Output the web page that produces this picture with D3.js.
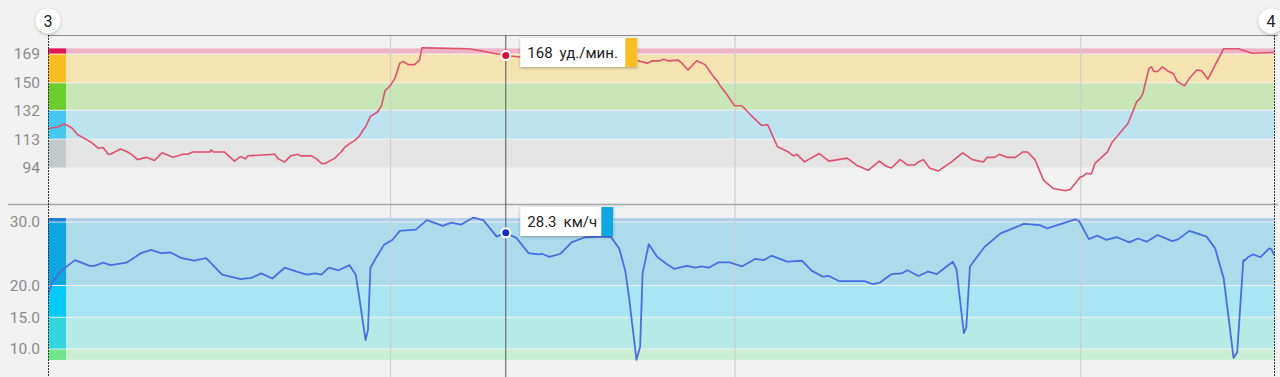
<!DOCTYPE html>
<html><head><meta charset="utf-8">
<script src="https://cdn.jsdelivr.net/npm/d3@7"></script>
<style>
html,body{margin:0;padding:0;background:#f2f2f2;overflow:hidden;}
svg{display:block;font-family:Roboto, "Liberation Sans", Arial, sans-serif;}
</style></head>
<body>
<svg id="chart" width="1280" height="377"></svg>
<script>
// ---- data (distance in metres within the lap) ----
const lapLabels = ["3", "4"];
const gridDist = [279, 560, 842];
const cursorDist = 373;
const hrCursorValue = 168;
const speedCursorValue = 28.3;
const hrUnit = "уд./мин.";
const speedUnit = "км/ч";

const hrDist = [0,8,13,16,20,24,35,41,45,49,51,59,65,69,73,80,87,93,102,110,114,118,132,133,135,144,152,157,161,163,185,188,193,198,204,206,215,219,223,226,234,239,242,246,250,254,257,259,263,269,272,275,279,283,287,290,294,299,303,305,308,343,347,373,385,434,481,489,493,499,502,506,514,517,522,529,536,542,546,548,554,560,566,573,582,587,595,604,608,611,617,629,637,652,660,662,669,678,684,688,695,701,707,710,714,719,726,737,746,754,763,766,772,776,782,789,795,799,805,812,820,830,834,842,844,847,851,854,864,868,881,888,891,893,898,900,902,905,909,913,918,921,927,931,937,941,946,959,971,982,1000];
const hrValues = [120,121,123,122,120,116,111,107,107.5,103,103,106.5,104.5,102.5,99.5,101,99,104,101,103,103,104.5,104.5,106,104.5,104.5,98.5,101.5,100,102,103,100,98,102,103,102,102,100,97,97,100.5,104.5,107.5,110,112,115,119,121,128,131,135,145,148,153,163,164,162,162,165,173,173,172.5,172,168,167,165.5,164.5,163,164.5,164.5,165.5,164.5,165,163,158.5,164.5,162,155,151,148.5,142,135,135,129,122,122.5,108,104.5,102,103,98,103.5,98.5,100.5,95.5,95,92.5,98.5,95,94,99.5,96,96,98,99.5,94,92,98,104,99.5,98,101,101,103,101,101,104.5,104.5,99.5,86,80.5,79,80,88,88.5,90.5,90,97,104.5,111,123.5,137.5,140,143,159.5,160.5,157.5,157.5,160.5,158,156,151,148,153,158.5,158,152.5,172.5,172.5,169.5,170];

const speedDist = [0,3,10,22,34,38,45,51,64,76,84,92,100,109,119,129,142,157,166,174,183,193,201,211,218,223,229,237,246,251,254,259,261,263,268,274,281,287,300,309,322,329,337,347,355,366,373,382,392,400,403,409,418,427,438,459,466,471,474,480,483,485,490,497,506,511,521,528,533,539,547,556,566,577,584,590,603,615,623,632,637,645,666,673,679,688,696,701,710,718,725,738,741,747,749,752,764,777,796,809,815,838,841,849,856,863,872,882,889,896,905,917,922,931,945,952,959,967,970,975,976,979,983,989,996,998,1000];
const speedValues = [18.5,20.3,22.2,24,23.1,23.1,23.6,23.2,23.6,25.1,25.6,25.1,25.2,24.3,23.9,24.3,21.7,21,21.2,21.9,21.1,22.8,22.3,21.7,21.9,21.7,22.8,22.4,23.2,21.7,18,11.4,13,22.8,24.5,26.4,27.2,28.6,28.8,30.3,29.4,29.9,29.6,30.7,30.3,27.7,28.3,27.5,25.1,24.9,25,24.5,25,26.8,27.6,27.7,25.8,22.2,18,8.3,10.4,21.9,26.5,24.5,23.2,22.6,23.1,22.8,23,22.8,23.65,23.65,23,24.2,24,24.7,23.75,23.9,22.3,21.4,21.5,20.7,20.7,20.2,20.5,21.8,21.9,22.4,21.5,22.2,21.8,23.75,22.6,12.5,13.4,23,26.1,28.2,29.7,29.5,29,30.4,30.15,27.3,27.85,27.2,27.6,26.8,27.4,26.9,27.95,27,27.3,28.6,27.7,25.85,21.1,8.6,9.5,24,23.9,24.5,24.9,24.45,25.85,25.7,24.8];

const hrZoneBounds = [94, 113, 132, 150, 169, 173];
const hrZoneFill = ["#e3e4e3", "#bde3f1", "#c9e6b6", "#f5e3b1", "#eeb4c5"];
const hrZoneSwatch = ["#c3cbca", "#45c7ef", "#6ccd2e", "#f9be23", "#e3165a"];
const hrTicks = [94, 113, 132, 150, 169];

const speedZoneBounds = [8.2, 10, 15, 20, 30, 30.7];
const speedZoneFill = ["#c9eed3", "#b5eae6", "#a9e5f2", "#acdbec", "#b1d0e8"];
const speedZoneSwatch = ["#70e48a", "#33d6dc", "#06c9f6", "#10a6df", "#1e7fd6"];
const speedTicks = [10, 15, 20, 30];

// ---- layout ----
const svg = d3.select("#chart");
const left = 48, right = 1274;
const hrTop = 35, hrBottom = 204, spTop = 204, spBottom = 377;

const x = d3.scaleLinear().domain([0, 1000]).range([left, right]);
const yHr = d3.scaleLinear().domain([94, 169]).range([168, 54]);
const ySp = d3.scaleLinear().domain([10, 30]).range([349, 222]);

const defs = svg.append("defs");
const f = defs.append("filter").attr("id", "sh").attr("x", "-30%").attr("y", "-30%").attr("width", "160%").attr("height", "170%");
f.append("feDropShadow").attr("dx", 0).attr("dy", 1).attr("stdDeviation", 1.6).attr("flood-color", "#000").attr("flood-opacity", 0.3);
defs.append("clipPath").attr("id", "clipHr").append("rect").attr("x", left).attr("y", hrTop).attr("width", right - left + 2).attr("height", hrBottom - hrTop);
defs.append("clipPath").attr("id", "clipSp").append("rect").attr("x", left).attr("y", spTop).attr("width", right - left + 2).attr("height", 361 - spTop);

function drawZones(bounds, fills, swatches, y) {
  const z = d3.range(fills.length).map(i => ({lo: bounds[i], hi: bounds[i + 1], fill: fills[i], sw: swatches[i]}));
  svg.append("g").selectAll("rect").data(z).join("rect")
    .attr("x", left).attr("width", right - left)
    .attr("y", d => y(d.hi) + 0.5).attr("height", d => y(d.lo) - y(d.hi) - 1)
    .attr("fill", d => d.fill);
  svg.append("g").selectAll("rect").data(z).join("rect")
    .attr("x", left).attr("width", 18)
    .attr("y", d => y(d.hi) + 0.5).attr("height", d => y(d.lo) - y(d.hi) - 1)
    .attr("fill", d => d.sw);
}
drawZones(hrZoneBounds, hrZoneFill, hrZoneSwatch, yHr);
drawZones(speedZoneBounds, speedZoneFill, speedZoneSwatch, ySp);

// vertical grid
svg.append("g").selectAll("line").data(gridDist).join("line")
  .attr("x1", d => x(d) + 0.5).attr("x2", d => x(d) + 0.5)
  .attr("y1", hrTop).attr("y2", spBottom)
  .attr("stroke", "#cfcfcf").attr("stroke-width", 1.2);

// axes (labels only)
const axHr = d3.axisLeft(yHr).tickValues(hrTicks).tickFormat(d3.format("d")).tickSize(0).tickPadding(8);
const axSp = d3.axisLeft(ySp).tickValues(speedTicks).tickFormat(d3.format(".1f")).tickSize(0).tickPadding(8);
[[axHr], [axSp]].forEach(([ax]) => {
  const g = svg.append("g").attr("transform", `translate(${left},0)`).call(ax);
  g.select(".domain").remove();
  g.selectAll("text").attr("fill", "#8a8a8a").attr("font-size", 15.5).attr("font-family", "Roboto, 'Liberation Sans', Arial, sans-serif");
});

// panel borders
svg.append("line").attr("x1", left).attr("x2", 1278).attr("y1", hrTop + 0.5).attr("y2", hrTop + 0.5).attr("stroke", "#8a8a8a").attr("stroke-width", 1);
svg.append("line").attr("x1", 8).attr("x2", 1278).attr("y1", hrBottom + 0.5).attr("y2", hrBottom + 0.5).attr("stroke", "#a6a6a6").attr("stroke-width", 1.5);

// lines
const hrData = hrDist.map((d, i) => [d, hrValues[i]]);
const spData = speedDist.map((d, i) => [d, speedValues[i]]);
svg.append("path").datum(hrData).attr("clip-path", "url(#clipHr)")
  .attr("d", d3.line().x(d => x(d[0])).y(d => yHr(d[1])))
  .attr("fill", "none").attr("stroke", "#e0506f").attr("stroke-width", 1.6).attr("stroke-linejoin", "round");
svg.append("path").datum(spData).attr("clip-path", "url(#clipSp)")
  .attr("d", d3.line().x(d => x(d[0])).y(d => ySp(d[1])))
  .attr("fill", "none").attr("stroke", "#4a6ee0").attr("stroke-width", 1.8).attr("stroke-linejoin", "round");

// dashed lap boundaries
svg.append("g").selectAll("line").data([0, 1000]).join("line")
  .attr("x1", d => x(d) + 0.5).attr("x2", d => x(d) + 0.5)
  .attr("y1", hrTop).attr("y2", spBottom)
  .attr("stroke", "#333").attr("stroke-width", 1).attr("stroke-dasharray", "2,1");

// cursor
const cx = x(cursorDist);
svg.append("line").attr("x1", cx + 0.5).attr("x2", cx + 0.5).attr("y1", hrTop).attr("y2", spBottom).attr("stroke", "#555").attr("stroke-width", 1);
svg.append("circle").attr("cx", cx + 0.5).attr("cy", yHr(hrCursorValue)).attr("r", 4.5).attr("fill", "#d50f3c").attr("stroke", "#fff").attr("stroke-width", 2);
svg.append("circle").attr("cx", cx + 0.5).attr("cy", ySp(speedCursorValue)).attr("r", 4.5).attr("fill", "#1030c8").attr("stroke", "#fff").attr("stroke-width", 2);

function tooltip(top, value, unit, wBox, swColor) {
  const g = svg.append("g").attr("transform", `translate(${cx + 15},${top})`);
  g.append("rect").attr("width", wBox + 12).attr("height", 29).attr("fill", "#fff").attr("filter", "url(#sh)");
  g.append("rect").attr("x", wBox).attr("width", 12).attr("height", 29).attr("fill", swColor);
  const t = g.append("text").attr("x", 7).attr("y", 19.8).attr("font-size", 15).attr("fill", "#222")
    .attr("font-family", "Roboto, 'Liberation Sans', Arial, sans-serif");
  t.append("tspan").text(value);
  t.append("tspan").attr("dx", 7).text(unit);
}
tooltip(hrTop + 3, d3.format("d")(hrCursorValue), hrUnit, 105, "#f9be23");
tooltip(spTop + 3, d3.format(".1f")(speedCursorValue), speedUnit, 81, "#10a6df");

// lap markers
const lg = svg.append("g").selectAll("g").data(lapLabels).join("g")
  .attr("transform", (d, i) => `translate(${x(i * 1000) - (i ? 3 : 0)},21)`);
lg.append("circle").attr("r", 12.5).attr("fill", "#fff").attr("filter", "url(#sh)");
lg.append("text").text(d => d).attr("text-anchor", "middle").attr("dy", "0.36em").attr("font-size", 16).attr("fill", "#222");
</script>
</body></html>
